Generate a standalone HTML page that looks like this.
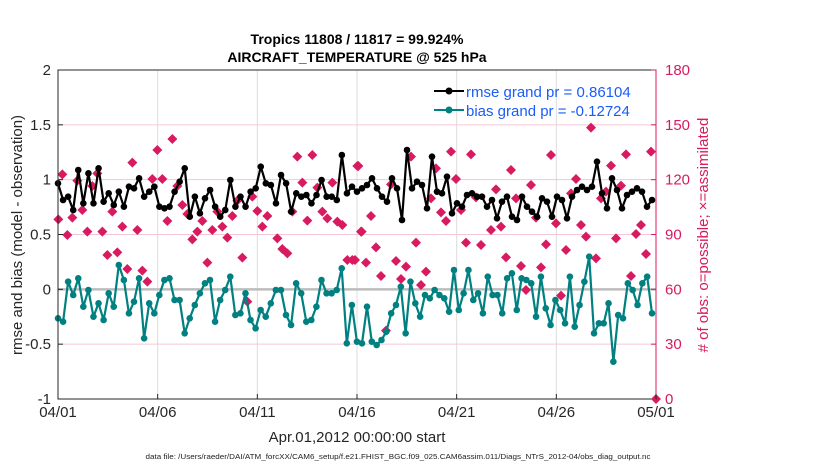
<!DOCTYPE html>
<html><head><meta charset="utf-8"><style>
html,body{margin:0;padding:0;background:#fff;}
svg{display:block;font-family:"Liberation Sans",sans-serif;}
</style></head><body>
<svg id="s" width="830" height="470" xmlns="http://www.w3.org/2000/svg">
<rect width="830" height="470" fill="#fff"/>
<g id="grid"></g>
<g id="data"></g>
<rect x="58" y="70" width="598" height="329" fill="none" stroke="#262626" stroke-width="1"/>
<line x1="656" y1="70" x2="656" y2="399" stroke="#d81b60" stroke-width="1"/>
<g id="ticks" font-size="15"></g>
<text x="357" y="44" text-anchor="middle" font-size="14" font-weight="bold">Tropics 11808 / 11817 = 99.924%</text>
<text x="357" y="62" text-anchor="middle" font-size="14" font-weight="bold">AIRCRAFT_TEMPERATURE @ 525 hPa</text>
<text x="357" y="442" text-anchor="middle" font-size="15" fill="#262626">Apr.01,2012 00:00:00 start</text>
<text x="22" y="235" text-anchor="middle" font-size="15" fill="#262626" transform="rotate(-90 22 235)">rmse and bias (model - observation)</text>
<text x="708" y="235" text-anchor="middle" font-size="15" fill="#d81b60" transform="rotate(-90 708 235)"># of obs: o=possible; ×=assimilated</text>
<text x="398" y="459" text-anchor="middle" font-size="7.3" fill="#222" textLength="505" lengthAdjust="spacingAndGlyphs">data file: /Users/raeder/DAI/ATM_forcXX/CAM6_setup/f.e21.FHIST_BGC.f09_025.CAM6assim.011/Diags_NTrS_2012-04/obs_diag_output.nc</text>
<g id="legend">
<line x1="434" y1="91" x2="464" y2="91" stroke="#000" stroke-width="2"/><circle cx="449" cy="91" r="3.5" fill="#000"/>
<line x1="434" y1="110" x2="464" y2="110" stroke="#008080" stroke-width="2"/><circle cx="449" cy="110" r="3.5" fill="#008080"/>
<text x="466" y="97" font-size="15" fill="#1a5cf5">rmse grand pr = 0.86104</text>
<text x="466" y="116" font-size="15" fill="#1a5cf5">bias grand pr = -0.12724</text>
</g>
</svg>
<script>
var NS="http://www.w3.org/2000/svg";
function el(p,t,a){var e=document.createElementNS(NS,t);for(var k in a)e.setAttribute(k,a[k]);p.appendChild(e);return e;}
var g=document.getElementById('grid'),d=document.getElementById('data'),tk=document.getElementById('ticks');
var X0=58,X1=656,Y0=70,Y1=399;
function yv(v){return Y1-(v+1)/3*(Y1-Y0);}
for(var i=1;i<6;i++){var x=X0+i*(X1-X0)/6;el(g,'line',{x1:x,y1:Y0,x2:x,y2:Y1,stroke:'#dcdcdc','stroke-width':1});}
[1.5,1,0.5,-0.5].forEach(function(v){el(g,'line',{x1:X0,y1:yv(v),x2:X1,y2:yv(v),stroke:'#f5c6d6','stroke-width':1});});
el(g,'line',{x1:X0,y1:yv(0),x2:X1,y2:yv(0),stroke:'#bdbdbd','stroke-width':2.5});
[2,1.5,1,0.5,0,-0.5,-1].forEach(function(v){var y=yv(v);
 el(tk,'line',{x1:X0,y1:y,x2:X0+5,y2:y,stroke:'#262626'});
 var t=el(tk,'text',{x:51,y:y+5,'text-anchor':'end',fill:'#262626'});t.textContent=v;});
for(var i=0;i<=6;i++){var v=i*30,y=Y1-v/180*(Y1-Y0);
 el(tk,'line',{x1:X1-5,y1:y,x2:X1,y2:y,stroke:'#d81b60'});
 var t=el(tk,'text',{x:665,y:y+5,fill:'#d81b60'});t.textContent=v;}
var labs=['04/01','04/06','04/11','04/16','04/21','04/26','05/01'];
labs.forEach(function(l,i){var x=X0+i*(X1-X0)/6;el(tk,'line',{x1:x,y1:Y1,x2:x,y2:Y1-5,stroke:'#262626'});
 var t=el(tk,'text',{x:x,y:417,'text-anchor':'middle',fill:'#262626'});t.textContent=l;});
function cv(a,x0,x1){var n=a.length;return a.map(function(z,i){return [x0+i*(x1-x0)/(n-1),z/3+60];});}
var r1=[370,420,410,450,330,430,340,430,325,425,400,435,395,440,380,385,355,410,395,380,440,445,440,395,365,325,470,410,460,415,390,440,470,450,360,440,410,440,395,385,320,370,375,430,345,370,455,400,410,405,430,405,360,410,410,420,285,400,380];
var r2=[395,385,375,355,385,410,425,355,385,480,270,385,365,375,445,290,395,400,350,460,430,440,405,400,410,410,440,420,475,425,410,470,480,410,440,455,470,415,425,470,410,420,475,410,390,380,390,380,305,400,445,355,390,445,405,395,385,395,440,420];
var b1=[775,785,665,705,655,740,690,770,730,780,700,740,615,660,760,725,655,835,730,760,705,660,655,720,720,820,775,735,700,670,660,785,720,690,650,765,760,700,780,805,750,770,730,690,690,765,795,670,700,785,780,740,660,700,700,690,625,850,735,845,850];
var b2=[740,845,855,840,815,760,735,680,820,665,730,770,705,715,690,705,715,755,630,750,700,630,720,700,760,650,705,705,760,655,640,750,655,660,670,770,650,745,795,720,750,790,650,800,735,665,590,820,790,790,730,905,765,775,670,690,735,670,650,760];
var rm=cv(r1,58,352).concat(cv(r2,357,652));
var bi=cv(b1,58,362).concat(cv(b2,367,652));
var dz1=[[10,478],[22,343],[37,525],[52,473],[67,362],[82,450],[97,515],[112,378],[127,340],[142,515],[157,585],[172,455],[187,577],[202,500],[217,627],[232,308],[247,510],[262,632],[277,665],[292,357],[307,270],[322,357],[337,483],[352,237],[367,378],[382,435],[397,462],[412,538],[427,515],[442,483],[457,608],[472,510],[487,455],[502,500],[517,533],[532,468],[547,422],[562,593],[577,725],[592,410],[607,453],[622,500],[637,468],[667,535],[682,567],[697,580],[712,455],[727,290],[742,368],[757,482],[772,285],[787,383],[802,455],[817,475],[832,368],[847,485],[862,495],[877,600],[892,600],[907,318],[920,515]];
var dz2=[[0,600],[10,318],[18,515],[33,608],[48,468],[63,562],[78,648],[93,812],[108,373],[123,603],[138,657],[153,620],[168,290],[183,548],[198,675],[213,635],[228,415],[243,325],[258,457],[273,483],[288,275],[303,357],[318,450],[333,548],[348,283],[363,412],[378,555],[408,510],[423,388],[438,500],[453,592],[468,330],[483,415],[498,618],[513,690],[528,375],[543,473],[558,622],[573,553],[588,285],[603,490],[618,707],[633,570],[648,400],[663,357],[678,495],[693,530],[708,203],[723,595],[738,415],[753,395],[768,317],[783,535],[798,377],[813,283],[828,648],[843,522],[858,495],[873,582],[888,275],[903,1018]];
function dia(x,y){el(d,'path',{d:'M'+x+' '+(y-5)+'L'+(x+5)+' '+y+'L'+x+' '+(y+5)+'L'+(x-5)+' '+y+'Z',fill:'#d81b60'});}
dz1.forEach(function(p){dia(p[0]/3+55,p[1]/3+60);});
dz2.forEach(function(p){dia(p[0]/3+355,Math.min(p[1]/3+60,399));});
function series(pts,c){el(d,'polyline',{points:pts.map(function(p){return p[0].toFixed(1)+','+p[1].toFixed(1);}).join(' '),fill:'none',stroke:c,'stroke-width':2.2,'stroke-linejoin':'round'});
 pts.forEach(function(p){el(d,'circle',{cx:p[0],cy:p[1],r:3.3,fill:c});});}
series(rm,'#000');series(bi,'#008080');
</script>
</body></html>
